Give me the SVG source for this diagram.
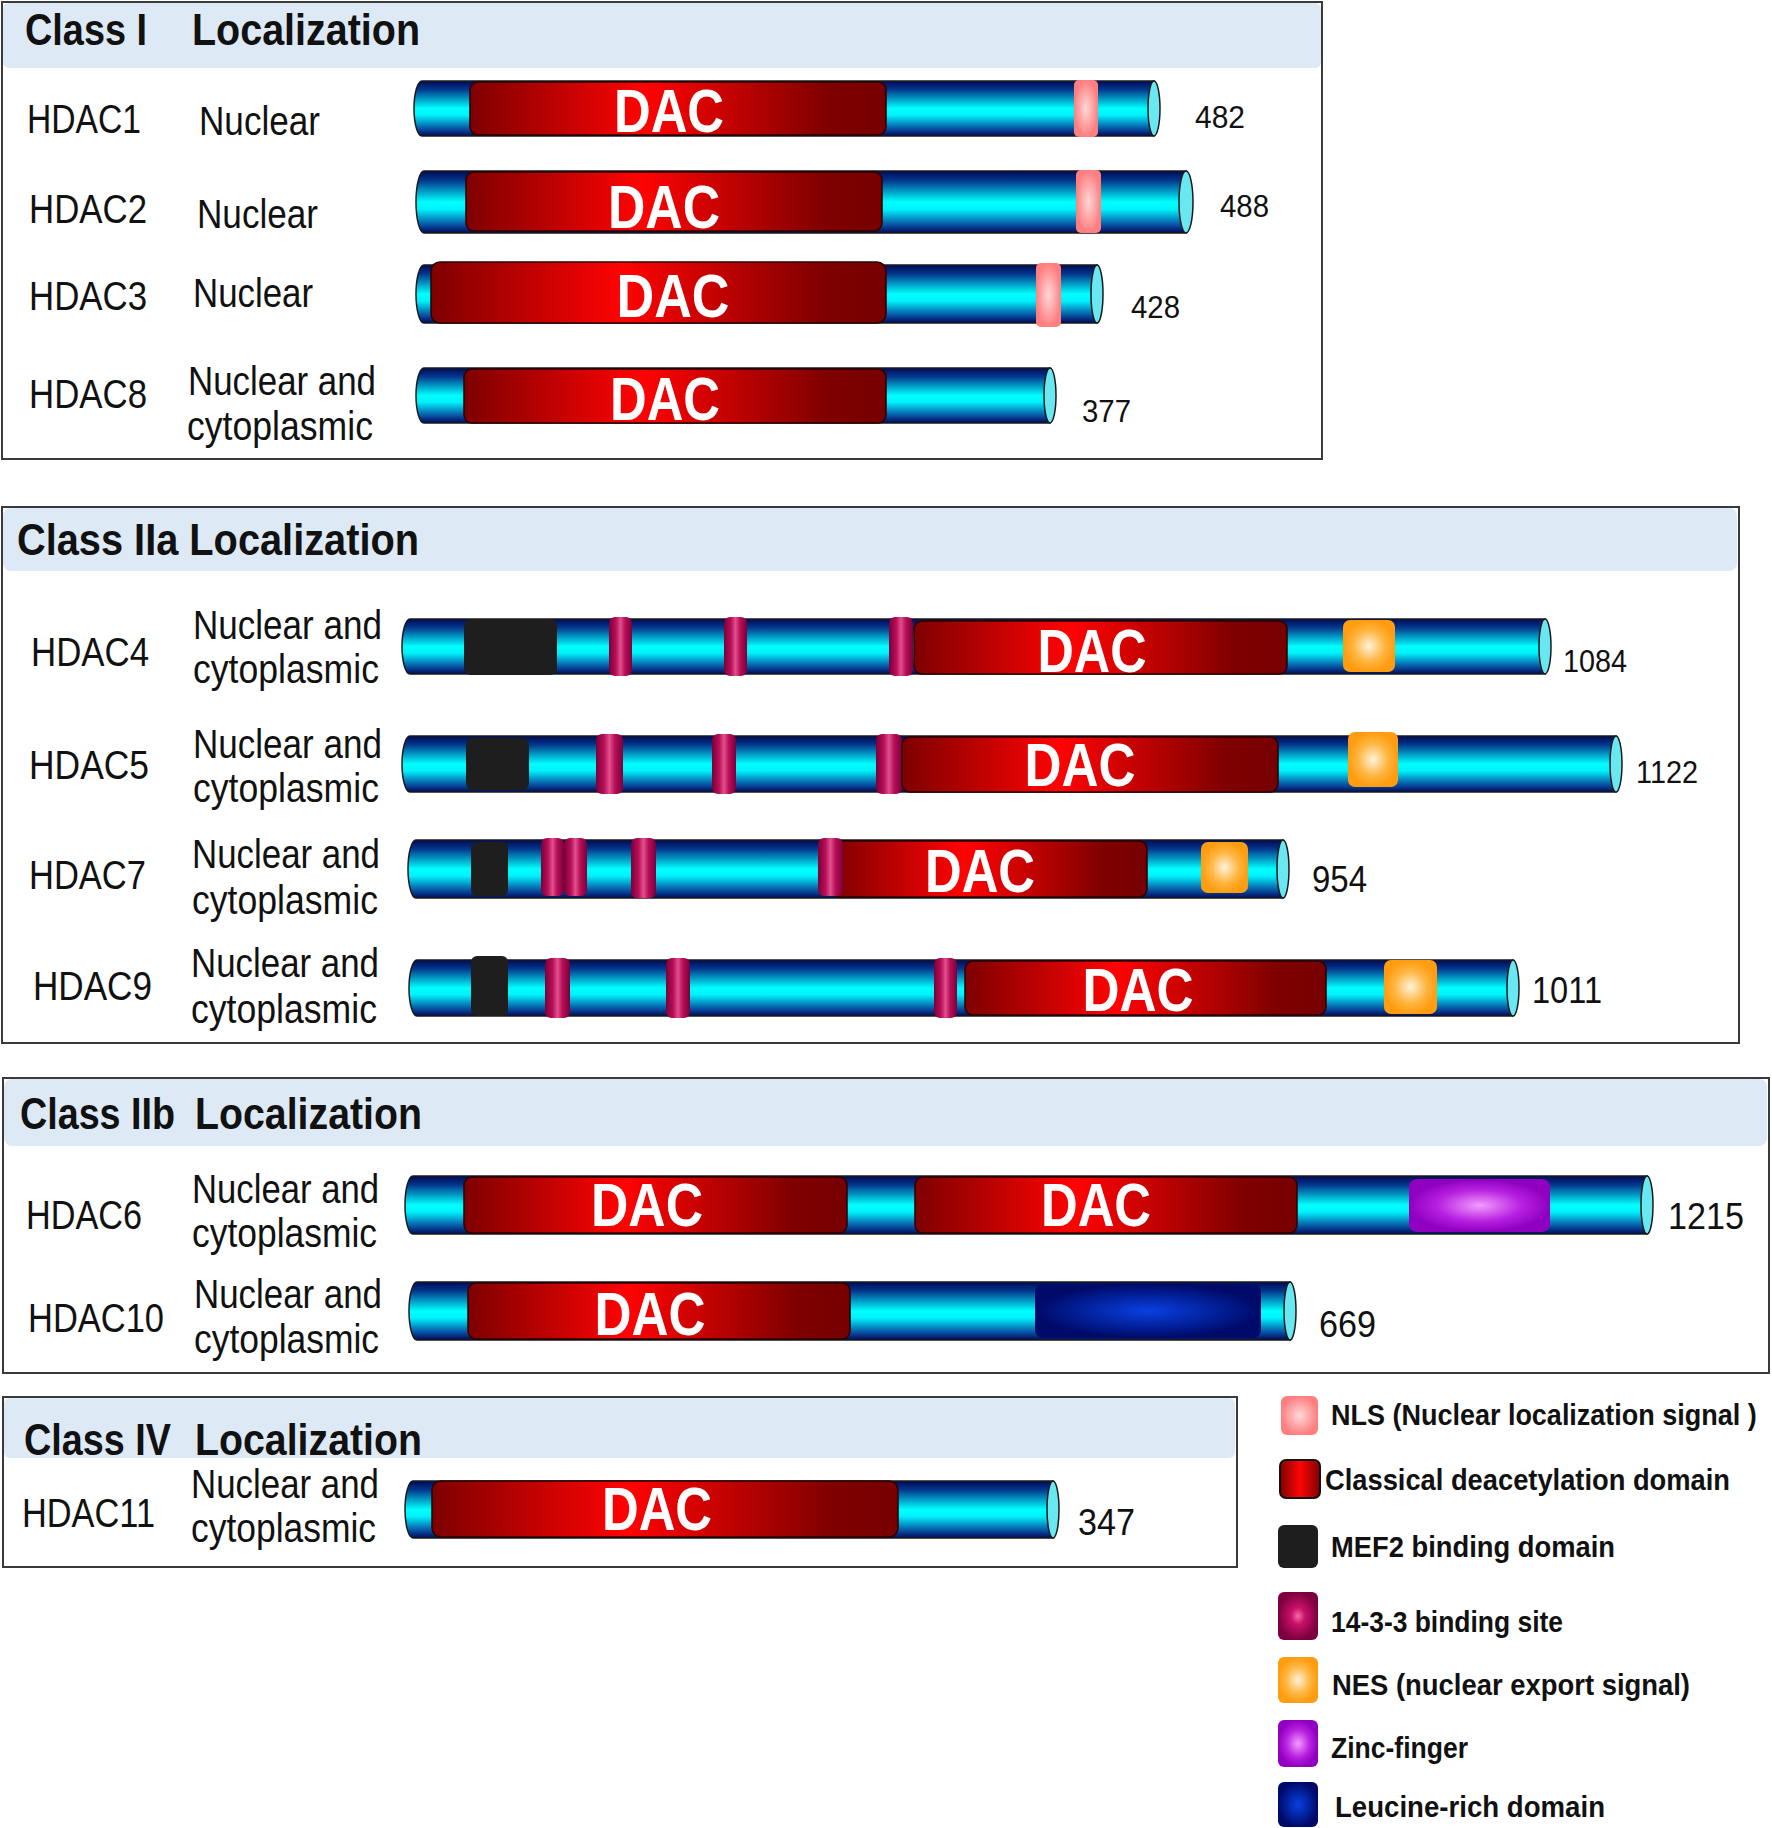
<svg xmlns="http://www.w3.org/2000/svg" width="1772" height="1828" viewBox="0 0 1772 1828">
<defs>
<linearGradient id="cyl" x1="0" y1="0" x2="0" y2="1">
<stop offset="0" stop-color="#000a55"/><stop offset="0.15" stop-color="#03358a"/><stop offset="0.5" stop-color="#00ffff"/><stop offset="0.62" stop-color="#00f2fc"/><stop offset="0.88" stop-color="#084a9e"/><stop offset="1" stop-color="#000a55"/>
</linearGradient>
<linearGradient id="dacg" x1="0" y1="0" x2="1" y2="0">
<stop offset="0" stop-color="#7e0000"/><stop offset="0.42" stop-color="#ff0303"/><stop offset="0.86" stop-color="#800000"/><stop offset="1" stop-color="#760000"/>
</linearGradient>
<linearGradient id="legdac" x1="0" y1="0" x2="1" y2="0">
<stop offset="0" stop-color="#7e0000"/><stop offset="0.5" stop-color="#ff0505"/><stop offset="1" stop-color="#7e0000"/>
</linearGradient>
<linearGradient id="g1433" x1="0" y1="0" x2="1" y2="0">
<stop offset="0" stop-color="#7a0038"/><stop offset="0.3" stop-color="#b80e58"/><stop offset="0.5" stop-color="#e0508c"/><stop offset="0.7" stop-color="#b80e58"/><stop offset="1" stop-color="#7a0038"/>
</linearGradient>
<radialGradient id="g1433r"><stop offset="0" stop-color="#f070a8"/><stop offset="0.35" stop-color="#c8106a"/><stop offset="1" stop-color="#7c0040"/></radialGradient>
<radialGradient id="gnls"><stop offset="0" stop-color="#ffd8d8"/><stop offset="1" stop-color="#ff7e80"/></radialGradient>
<radialGradient id="gnes"><stop offset="0" stop-color="#fff2dc"/><stop offset="0.6" stop-color="#ffb640"/><stop offset="1" stop-color="#ff9c10"/></radialGradient>
<radialGradient id="gzn"><stop offset="0" stop-color="#f39cff"/><stop offset="0.6" stop-color="#b820e0"/><stop offset="1" stop-color="#9000c0"/></radialGradient>
<radialGradient id="gleu"><stop offset="0" stop-color="#0a40e0"/><stop offset="0.6" stop-color="#02209a"/><stop offset="1" stop-color="#000a68"/></radialGradient>
</defs>
<style>
text{font-family:"Liberation Sans",Arial,sans-serif;fill:#111}
.lbl{font-size:41px}
.num{font-size:32px}
.num2{font-size:37px}
.ttl{font-size:44px;font-weight:bold}
.dac{font-size:62px;font-weight:bold;fill:#fff;text-anchor:middle}
.leg{font-size:30px;font-weight:bold}
.box{fill:#fff;stroke:#3a3a3a;stroke-width:2}
.hdr{fill:#dde9f5}
.cyl{fill:url(#cyl);stroke:#1a1a1a;stroke-width:1.5}
.cap{fill:#6ae8f2;stroke:#1a1a1a;stroke-width:1.5}
.dbox{fill:url(#dacg);stroke:#2a0000;stroke-width:1.5}
.nls{fill:url(#gnls)}
.mef{fill:#1e1e1e}
.b14{fill:url(#g1433)}
.nes{fill:url(#gnes)}
.zn{fill:url(#gzn)}
.leu{fill:url(#gleu)}
</style>
<rect width="1772" height="1828" fill="#fff"/>

<!-- Class I -->
<g id="classI">
<rect class="box" x="2" y="2" width="1320" height="457"/>
<rect class="hdr" x="3" y="3" width="1318" height="65" rx="6"/>
<text class="ttl" x="25" y="45" textLength="122" lengthAdjust="spacingAndGlyphs">Class I</text>
<text class="ttl" x="192" y="45" textLength="228" lengthAdjust="spacingAndGlyphs">Localization</text>
</g>
<g id="HDAC1">
<text class="lbl" x="27" y="133" textLength="114" lengthAdjust="spacingAndGlyphs">HDAC1</text>
<text class="lbl" x="199" y="135" textLength="121" lengthAdjust="spacingAndGlyphs">Nuclear</text>
<path class="cyl" d="M422,81 H1154 V136 H422 A8,27.5 0 0 1 422,81 Z"/>
<ellipse class="cap" cx="1154" cy="108.5" rx="6" ry="27.5"/>
<rect class="dbox" x="470" y="82" width="416" height="53" rx="8"/>
<text class="dac" x="669" y="132" textLength="110" lengthAdjust="spacingAndGlyphs">DAC</text>
<rect class="nls" x="1074" y="80" width="24" height="57" rx="5"/>
<text class="num" x="1195" y="128" textLength="50" lengthAdjust="spacingAndGlyphs">482</text>
</g>
<g id="HDAC2">
<text class="lbl" x="29" y="223" textLength="118" lengthAdjust="spacingAndGlyphs">HDAC2</text>
<text class="lbl" x="197" y="228" textLength="121" lengthAdjust="spacingAndGlyphs">Nuclear</text>
<path class="cyl" d="M424,171 H1186 V233 H424 A8,31 0 0 1 424,171 Z"/>
<ellipse class="cap" cx="1186" cy="202" rx="7" ry="31"/>
<rect class="dbox" x="466" y="172" width="416" height="59" rx="8"/>
<text class="dac" x="664" y="228" textLength="112" lengthAdjust="spacingAndGlyphs">DAC</text>
<rect class="nls" x="1076" y="170" width="25" height="63" rx="5"/>
<text class="num" x="1220" y="217" textLength="49" lengthAdjust="spacingAndGlyphs">488</text>
</g>
<g id="HDAC3">
<text class="lbl" x="29" y="310" textLength="118" lengthAdjust="spacingAndGlyphs">HDAC3</text>
<text class="lbl" x="193" y="307" textLength="120" lengthAdjust="spacingAndGlyphs">Nuclear</text>
<path class="cyl" d="M424,265 H1097 V323 H424 A8,29 0 0 1 424,265 Z"/>
<ellipse class="cap" cx="1097" cy="294" rx="6" ry="29"/>
<rect class="dbox" x="431" y="262" width="455" height="61" rx="9"/>
<text class="dac" x="673" y="317" textLength="113" lengthAdjust="spacingAndGlyphs">DAC</text>
<rect class="nls" x="1036" y="263" width="25" height="64" rx="5"/>
<text class="num" x="1131" y="318" textLength="49" lengthAdjust="spacingAndGlyphs">428</text>
</g>
<g id="HDAC8">
<text class="lbl" x="29" y="408" textLength="118" lengthAdjust="spacingAndGlyphs">HDAC8</text>
<text class="lbl" x="188" y="395" textLength="188" lengthAdjust="spacingAndGlyphs">Nuclear and</text>
<text class="lbl" x="187" y="440" textLength="186" lengthAdjust="spacingAndGlyphs">cytoplasmic</text>
<path class="cyl" d="M424,368 H1050 V423 H424 A8,27.5 0 0 1 424,368 Z"/>
<ellipse class="cap" cx="1050" cy="395.5" rx="6" ry="27.5"/>
<rect class="dbox" x="464" y="369" width="422" height="54" rx="8"/>
<text class="dac" x="665" y="420" textLength="110" lengthAdjust="spacingAndGlyphs">DAC</text>
<text class="num" x="1082" y="422" textLength="49" lengthAdjust="spacingAndGlyphs">377</text>
</g>

<!-- Class IIa -->
<g id="classIIa">
<rect class="box" x="2" y="507" width="1737" height="536"/>
<rect class="hdr" x="3" y="508" width="1734" height="63" rx="8"/>
<text class="ttl" x="17" y="555" textLength="402" lengthAdjust="spacingAndGlyphs">Class IIa Localization</text>
</g>
<g id="HDAC4">
<text class="lbl" x="31" y="666" textLength="118" lengthAdjust="spacingAndGlyphs">HDAC4</text>
<text class="lbl" x="193" y="639" textLength="189" lengthAdjust="spacingAndGlyphs">Nuclear and</text>
<text class="lbl" x="193" y="683" textLength="186" lengthAdjust="spacingAndGlyphs">cytoplasmic</text>
<path class="cyl" d="M410,619 H1545 V674 H410 A8,27.5 0 0 1 410,619 Z"/>
<ellipse class="cap" cx="1545" cy="646.5" rx="6" ry="27.5"/>
<rect class="mef" x="464" y="619" width="93" height="56" rx="7"/>
<rect class="b14" x="609" y="617" width="23" height="59" rx="6"/>
<rect class="b14" x="724" y="617" width="23" height="59" rx="6"/>
<rect class="b14" x="889" y="617" width="24" height="59" rx="6"/>
<rect class="dbox" x="914" y="621" width="373" height="53" rx="8"/>
<text class="dac" x="1092" y="672" textLength="109" lengthAdjust="spacingAndGlyphs">DAC</text>
<rect class="nes" x="1343" y="620" width="52" height="52" rx="7"/>
<text class="num" x="1563" y="672" textLength="64" lengthAdjust="spacingAndGlyphs">1084</text>
</g>
<g id="HDAC5">
<text class="lbl" x="29" y="779" textLength="120" lengthAdjust="spacingAndGlyphs">HDAC5</text>
<text class="lbl" x="193" y="758" textLength="189" lengthAdjust="spacingAndGlyphs">Nuclear and</text>
<text class="lbl" x="193" y="802" textLength="186" lengthAdjust="spacingAndGlyphs">cytoplasmic</text>
<path class="cyl" d="M410,736 H1616 V792 H410 A8,28 0 0 1 410,736 Z"/>
<ellipse class="cap" cx="1616" cy="764" rx="6" ry="28"/>
<rect class="mef" x="466" y="738" width="63" height="52" rx="7"/>
<rect class="b14" x="596" y="734" width="27" height="60" rx="6"/>
<rect class="b14" x="712" y="734" width="24" height="60" rx="6"/>
<rect class="b14" x="876" y="734" width="26" height="60" rx="6"/>
<rect class="dbox" x="902" y="737" width="376" height="55" rx="8"/>
<text class="dac" x="1080" y="786" textLength="111" lengthAdjust="spacingAndGlyphs">DAC</text>
<rect class="nes" x="1348" y="732" width="50" height="55" rx="7"/>
<text class="num" x="1636" y="783" textLength="62" lengthAdjust="spacingAndGlyphs">1122</text>
</g>
<g id="HDAC7">
<text class="lbl" x="29" y="889" textLength="117" lengthAdjust="spacingAndGlyphs">HDAC7</text>
<text class="lbl" x="192" y="868" textLength="188" lengthAdjust="spacingAndGlyphs">Nuclear and</text>
<text class="lbl" x="192" y="914" textLength="186" lengthAdjust="spacingAndGlyphs">cytoplasmic</text>
<path class="cyl" d="M416,840 H1283 V898 H416 A8,29 0 0 1 416,840 Z"/>
<ellipse class="cap" cx="1283" cy="869" rx="6" ry="29"/>
<rect class="mef" x="471" y="842" width="37" height="54" rx="6"/>
<rect class="b14" x="541" y="838" width="23" height="58" rx="6"/>
<rect class="b14" x="564" y="838" width="23" height="58" rx="6"/>
<rect class="b14" x="631" y="838" width="25" height="60" rx="6"/>
<rect class="dbox" x="832" y="841" width="315" height="56" rx="8"/>
<rect class="b14" x="818" y="838" width="25" height="58" rx="6"/>
<text class="dac" x="980" y="892" textLength="110" lengthAdjust="spacingAndGlyphs">DAC</text>
<rect class="nes" x="1201" y="842" width="47" height="51" rx="7"/>
<text class="num2" x="1312" y="892" textLength="55" lengthAdjust="spacingAndGlyphs">954</text>
</g>
<g id="HDAC9">
<text class="lbl" x="33" y="1000" textLength="119" lengthAdjust="spacingAndGlyphs">HDAC9</text>
<text class="lbl" x="191" y="977" textLength="188" lengthAdjust="spacingAndGlyphs">Nuclear and</text>
<text class="lbl" x="191" y="1023" textLength="186" lengthAdjust="spacingAndGlyphs">cytoplasmic</text>
<path class="cyl" d="M417,960 H1513 V1016 H417 A8,28 0 0 1 417,960 Z"/>
<ellipse class="cap" cx="1513" cy="988" rx="6" ry="28"/>
<rect class="mef" x="471" y="956" width="37" height="60" rx="6"/>
<rect class="b14" x="545" y="958" width="25" height="60" rx="6"/>
<rect class="b14" x="666" y="958" width="24" height="60" rx="6"/>
<rect class="b14" x="934" y="958" width="23" height="60" rx="6"/>
<rect class="dbox" x="965" y="961" width="361" height="54" rx="8"/>
<text class="dac" x="1138" y="1011" textLength="111" lengthAdjust="spacingAndGlyphs">DAC</text>
<rect class="nes" x="1384" y="960" width="53" height="54" rx="7"/>
<text class="num2" x="1532" y="1003" textLength="70" lengthAdjust="spacingAndGlyphs">1011</text>
</g>

<!-- Class IIb -->
<g id="classIIb">
<rect class="box" x="3" y="1078" width="1766" height="295"/>
<rect class="hdr" x="4" y="1079" width="1763" height="67" rx="8"/>
<text class="ttl" x="20" y="1129" textLength="155" lengthAdjust="spacingAndGlyphs">Class IIb</text>
<text class="ttl" x="195" y="1129" textLength="227" lengthAdjust="spacingAndGlyphs">Localization</text>
</g>
<g id="HDAC6">
<text class="lbl" x="26" y="1229" textLength="116" lengthAdjust="spacingAndGlyphs">HDAC6</text>
<text class="lbl" x="192" y="1203" textLength="187" lengthAdjust="spacingAndGlyphs">Nuclear and</text>
<text class="lbl" x="192" y="1247" textLength="185" lengthAdjust="spacingAndGlyphs">cytoplasmic</text>
<path class="cyl" d="M413,1176 H1647 V1234 H413 A8,29 0 0 1 413,1176 Z"/>
<ellipse class="cap" cx="1647" cy="1205" rx="6" ry="29"/>
<rect class="dbox" x="464" y="1177" width="383" height="56" rx="8"/>
<text class="dac" x="647" y="1226" textLength="112" lengthAdjust="spacingAndGlyphs">DAC</text>
<rect class="dbox" x="915" y="1177" width="382" height="56" rx="8"/>
<text class="dac" x="1096" y="1226" textLength="110" lengthAdjust="spacingAndGlyphs">DAC</text>
<rect class="zn" x="1409" y="1179" width="141" height="53" rx="8"/>
<text class="num2" x="1668" y="1229" textLength="76" lengthAdjust="spacingAndGlyphs">1215</text>
</g>
<g id="HDAC10">
<text class="lbl" x="28" y="1332" textLength="136" lengthAdjust="spacingAndGlyphs">HDAC10</text>
<text class="lbl" x="194" y="1308" textLength="188" lengthAdjust="spacingAndGlyphs">Nuclear and</text>
<text class="lbl" x="194" y="1353" textLength="185" lengthAdjust="spacingAndGlyphs">cytoplasmic</text>
<path class="cyl" d="M417,1282 H1290 V1340 H417 A8,29 0 0 1 417,1282 Z"/>
<ellipse class="cap" cx="1290" cy="1311" rx="6" ry="29"/>
<rect class="dbox" x="468" y="1283" width="382" height="56" rx="8"/>
<text class="dac" x="650" y="1335" textLength="111" lengthAdjust="spacingAndGlyphs">DAC</text>
<rect class="leu" x="1035" y="1284" width="226" height="54" rx="8"/>
<text class="num2" x="1319" y="1337" textLength="57" lengthAdjust="spacingAndGlyphs">669</text>
</g>

<!-- Class IV -->
<g id="classIV">
<rect class="box" x="3" y="1397" width="1234" height="170"/>
<rect class="hdr" x="4" y="1398" width="1231" height="60" rx="6"/>
<text class="ttl" x="24" y="1455" textLength="147" lengthAdjust="spacingAndGlyphs">Class IV</text>
<text class="ttl" x="195" y="1455" textLength="227" lengthAdjust="spacingAndGlyphs">Localization</text>
</g>
<g id="HDAC11">
<text class="lbl" x="22" y="1527" textLength="133" lengthAdjust="spacingAndGlyphs">HDAC11</text>
<text class="lbl" x="191" y="1498" textLength="188" lengthAdjust="spacingAndGlyphs">Nuclear and</text>
<text class="lbl" x="191" y="1542" textLength="185" lengthAdjust="spacingAndGlyphs">cytoplasmic</text>
<path class="cyl" d="M413,1481 H1053 V1538 H413 A8,28.5 0 0 1 413,1481 Z"/>
<ellipse class="cap" cx="1053" cy="1509.5" rx="6" ry="28.5"/>
<rect class="dbox" x="432" y="1481" width="466" height="56" rx="9"/>
<text class="dac" x="657" y="1530" textLength="110" lengthAdjust="spacingAndGlyphs">DAC</text>
<text class="num2" x="1078" y="1535" textLength="57" lengthAdjust="spacingAndGlyphs">347</text>
</g>

<g id="connectors"/>

<!-- Legend -->
<g id="legend">
<g id="leg-nls">
<rect class="nls" x="1281" y="1396" width="37" height="39" rx="6"/>
<text class="leg" transform="translate(1331,1425) scale(0.9,1)" x="0" y="0">NLS (Nuclear localization signal )</text>
</g>
<g id="leg-dac">
<rect x="1280" y="1460" width="40" height="38" rx="6" fill="url(#legdac)" stroke="#111" stroke-width="2"/>
<text class="leg" x="1325" y="1490" textLength="405" lengthAdjust="spacingAndGlyphs">Classical deacetylation domain</text>
</g>
<g id="leg-mef2">
<rect class="mef" x="1278" y="1525" width="40" height="43" rx="6"/>
<text class="leg" x="1331" y="1557" textLength="284" lengthAdjust="spacingAndGlyphs">MEF2 binding domain</text>
</g>
<g id="leg-1433">
<rect x="1278" y="1592" width="40" height="48" rx="6" fill="url(#g1433r)"/>
<text class="leg" x="1331" y="1632" textLength="232" lengthAdjust="spacingAndGlyphs">14-3-3 binding site</text>
</g>
<g id="leg-nes">
<rect class="nes" x="1278" y="1657" width="40" height="46" rx="6"/>
<text class="leg" x="1332" y="1695" textLength="358" lengthAdjust="spacingAndGlyphs">NES (nuclear export signal)</text>
</g>
<g id="leg-zn">
<rect class="zn" x="1278" y="1720" width="40" height="47" rx="6"/>
<text class="leg" x="1331" y="1758" textLength="137" lengthAdjust="spacingAndGlyphs">Zinc-finger</text>
</g>
<g id="leg-leu">
<rect class="leu" x="1278" y="1782" width="40" height="45" rx="6"/>
<text class="leg" x="1335" y="1817" textLength="270" lengthAdjust="spacingAndGlyphs">Leucine-rich domain</text>
</g>
</g>
</svg>
